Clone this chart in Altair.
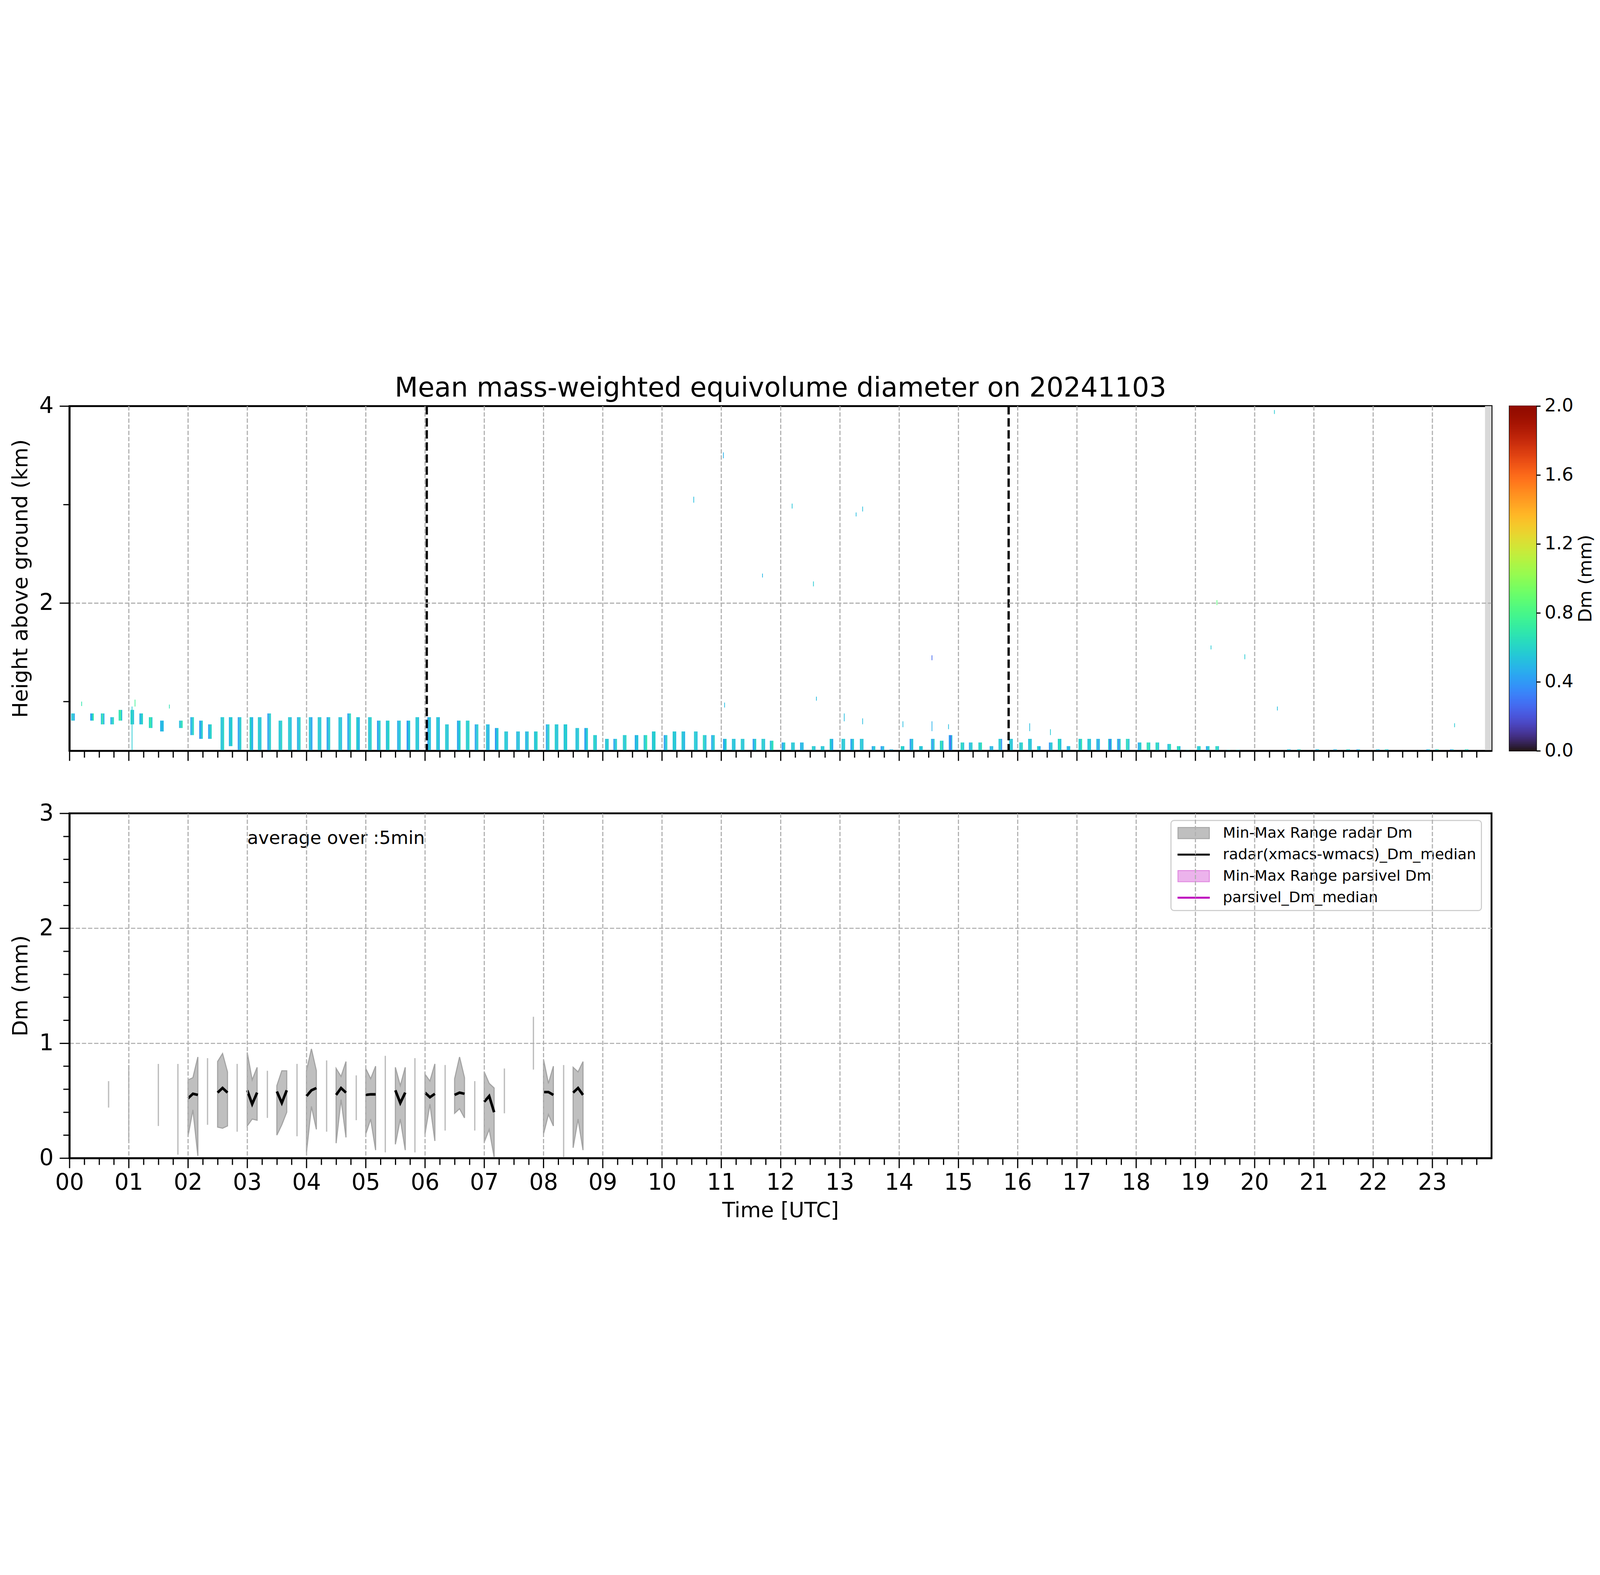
import altair as alt
import pandas as pd

FONT = "DejaVu Sans"
TITLE = "Mean mass-weighted equivolume diameter on 20241103"

# ---------------- top panel: radar Dm time-height columns ----------------
col_start = [
    0.03, 0.35, 0.53, 0.69, 0.83, 1.03, 1.18, 1.34, 1.53, 1.85,
    2.04, 2.19, 2.34, 2.55, 2.69, 2.84, 3.04, 3.18, 3.34, 3.53,
    3.69, 3.84, 4.04, 4.19, 4.34, 4.54, 4.69, 4.84, 5.04, 5.19,
    5.34, 5.53, 5.69, 5.84, 6.04, 6.19, 6.34, 6.54, 6.69, 6.84,
    7.03, 7.18, 7.34, 7.54, 7.69, 7.84, 8.04, 8.19, 8.34, 8.54,
    8.69, 8.84, 9.04, 9.18, 9.34, 9.54, 9.69, 9.83, 10.03, 10.18,
    10.33, 10.54, 10.69, 10.83, 11.03, 11.18, 11.33, 11.53, 11.68, 11.82,
    12.02, 12.18, 12.33, 12.53, 12.68, 12.83, 13.03, 13.18, 13.34, 13.54,
    13.69, 13.84, 14.03, 14.18, 14.34, 14.54, 14.69, 14.84, 15.04, 15.18,
    15.34, 15.53, 15.68, 15.86, 16.03, 16.18, 16.33, 16.53, 16.68, 16.83,
    17.03, 17.18, 17.33, 17.53, 17.68, 17.83, 18.03, 18.18, 18.33, 18.53,
    18.69, 18.84, 19.03, 19.18, 19.34, 19.53, 19.69,
    20.55, 20.72, 21.03, 21.33, 21.55, 21.72, 22.05, 22.2, 22.9, 23.05, 23.3, 23.55,
]
col_top = [
    0.880, 0.880, 0.880, 0.842, 0.916, 0.916, 0.880, 0.842, 0.807, 0.807,
    0.842, 0.807, 0.769, 0.842, 0.842, 0.842, 0.842, 0.842, 0.880, 0.807,
    0.842, 0.842, 0.842, 0.842, 0.842, 0.842, 0.880, 0.842, 0.842, 0.807,
    0.807, 0.807, 0.807, 0.842, 0.842, 0.842, 0.769, 0.807, 0.807, 0.769,
    0.769, 0.732, 0.697, 0.697, 0.697, 0.697, 0.769, 0.769, 0.769, 0.732,
    0.732, 0.660, 0.622, 0.622, 0.660, 0.660, 0.660, 0.697, 0.660, 0.697,
    0.697, 0.697, 0.660, 0.660, 0.622, 0.622, 0.622, 0.622, 0.622, 0.603,
    0.585, 0.585, 0.585, 0.548, 0.548, 0.622, 0.622, 0.622, 0.622, 0.548,
    0.548, 0.515, 0.548, 0.622, 0.548, 0.622, 0.603, 0.660, 0.585, 0.585,
    0.585, 0.548, 0.622, 0.622, 0.585, 0.622, 0.548, 0.585, 0.622, 0.548,
    0.622, 0.622, 0.622, 0.622, 0.622, 0.622, 0.585, 0.585, 0.585, 0.570,
    0.548, 0.511, 0.548, 0.548, 0.548, 0.511, 0.511,
    0.515, 0.515, 0.515, 0.515, 0.515, 0.515, 0.515, 0.515, 0.515, 0.515, 0.515, 0.515,
]
col_bottom = [
    0.807, 0.807, 0.769, 0.769, 0.807, 0.769, 0.769, 0.732, 0.697, 0.732,
    0.660, 0.622, 0.622, 0.500, 0.548, 0.511,
] + [0.5] * 113
col_dm = [
    (0.51, 0.58, 0.45), (0.42, 0.52, 0.68), (0.54, 0.70, 0.47), (0.45, 0.56, 0.62), (0.66, 0.74, 0.52),
    (0.58, 0.68, 0.51), (0.47, 0.54, 0.60), (0.62, 0.70, 0.56), (0.47, 0.51, 0.49), (0.52, 0.58, 0.66),
    (0.45, 0.52, 0.62), (0.38, 0.49, 0.58), (0.42, 0.54, 0.60), (0.56, 0.51, 0.62), (0.49, 0.54, 0.58),
    (0.41, 0.52, 0.58), (0.62, 0.52, 0.47), (0.58, 0.51, 0.56), (0.40, 0.52, 0.58), (0.56, 0.52, 0.60),
    (0.54, 0.58, 0.51), (0.47, 0.52, 0.60), (0.54, 0.51, 0.43), (0.58, 0.52, 0.56), (0.42, 0.52, 0.58),
    (0.52, 0.58, 0.51), (0.41, 0.54, 0.62), (0.58, 0.52, 0.49), (0.56, 0.52, 0.60), (0.40, 0.52, 0.58),
    (0.52, 0.56, 0.62), (0.45, 0.52, 0.58), (0.38, 0.52, 0.56), (0.54, 0.58, 0.51), (0.41, 0.56, 0.52),
    (0.52, 0.58, 0.47), (0.58, 0.52, 0.56), (0.43, 0.52, 0.60), (0.58, 0.54, 0.62), (0.42, 0.52, 0.58),
    (0.54, 0.47, 0.52), (0.38, 0.52, 0.56), (0.54, 0.58, 0.51), (0.47, 0.56, 0.52), (0.52, 0.45, 0.58),
    (0.56, 0.52, 0.62), (0.45, 0.52, 0.60), (0.58, 0.52, 0.56), (0.52, 0.60, 0.54), (0.54, 0.51, 0.58),
    (0.41, 0.52, 0.58), (0.56, 0.62, 0.52), (0.52, 0.58, 0.54), (0.43, 0.52, 0.58), (0.58, 0.52, 0.62),
    (0.45, 0.54, 0.52), (0.54, 0.58, 0.68), (0.52, 0.60, 0.56), (0.41, 0.52, 0.58), (0.54, 0.58, 0.52),
    (0.56, 0.52, 0.49), (0.54, 0.58, 0.52), (0.62, 0.56, 0.52), (0.45, 0.52, 0.58), (0.43, 0.52, 0.58),
    (0.52, 0.56, 0.52), (0.58, 0.52, 0.56), (0.41, 0.52, 0.58), (0.54, 0.60, 0.52), (0.52, 0.58, 0.66),
    (0.43, 0.52, 0.58), (0.52, 0.58, 0.54), (0.45, 0.52, 0.49), (0.56, 0.60, 0.52), (0.52, 0.58, 0.54),
    (0.58, 0.52, 0.45), (0.52, 0.58, 0.54), (0.41, 0.52, 0.56), (0.52, 0.58, 0.52), (0.43, 0.52, 0.56),
    (0.38, 0.49, 0.52), (0.45, 0.52, 0.49), (0.58, 0.62, 0.52), (0.38, 0.52, 0.54), (0.58, 0.52, 0.56),
    (0.52, 0.38, 0.58), (0.58, 0.68, 0.52), (0.41, 0.28, 0.52), (0.58, 0.64, 0.52), (0.45, 0.52, 0.58),
    (0.60, 0.54, 0.66), (0.45, 0.52, 0.49), (0.54, 0.60, 0.38), (0.52, 0.58, 0.52), (0.58, 0.54, 0.62),
    (0.52, 0.58, 0.52), (0.60, 0.52, 0.47), (0.40, 0.52, 0.56), (0.58, 0.66, 0.52), (0.52, 0.41, 0.56),
    (0.58, 0.52, 0.66), (0.52, 0.58, 0.54), (0.54, 0.40, 0.52), (0.56, 0.30, 0.52), (0.52, 0.34, 0.58),
    (0.60, 0.66, 0.52), (0.45, 0.52, 0.58), (0.62, 0.70, 0.56), (0.58, 0.66, 0.52), (0.52, 0.58, 0.62),
    (0.58, 0.70, 0.52), (0.52, 0.58, 0.66), (0.58, 0.52, 0.62), (0.45, 0.52, 0.58), (0.58, 0.66, 0.52),
    (0.52, 0.58, 0.70), (0.66, 0.58, 0.52),
    (0.52, 0.58, 0.45), (0.58, 0.52, 0.66), (0.45, 0.52, 0.58), (0.52, 0.38, 0.58), (0.58, 0.66, 0.52),
    (0.38, 0.52, 0.56), (0.52, 0.58, 0.45), (0.66, 0.58, 0.52), (0.45, 0.52, 0.58), (0.52, 0.58, 0.74),
    (0.38, 0.52, 0.58), (0.58, 0.74, 0.52),
]
COL_SPAN_H = 0.06   # duration of one radar column (hours)

# isolated echoes higher up
spk_t = [0.20, 1.05, 1.10, 1.68, 10.53, 11.03, 11.05, 11.69, 12.19, 12.55, 12.60, 13.07,
         13.27, 13.38, 13.38, 14.06, 14.55, 14.55, 14.83, 16.20, 16.55, 19.26, 19.36,
         19.83, 20.33, 20.38, 23.37]
spk_lo = [0.955, 0.50, 0.95, 0.93, 3.02, 3.47, 0.94, 2.26, 2.96, 2.17, 1.01, 0.80,
          2.88, 2.93, 0.77, 0.74, 1.42, 0.70, 0.72, 0.70, 0.66, 1.53, 1.98,
          1.43, 3.92, 0.91, 0.74]
spk_hi = [1.00, 0.95, 1.02, 0.97, 3.08, 3.53, 0.99, 2.30, 3.01, 2.22, 1.05, 0.88,
          2.92, 2.98, 0.83, 0.80, 1.47, 0.80, 0.77, 0.78, 0.72, 1.57, 2.03,
          1.48, 3.96, 0.95, 0.78]
spk_dm = [0.68, 0.56, 0.76, 0.66, 0.51, 0.47, 0.51, 0.49, 0.54, 0.56, 0.51, 0.51,
          0.51, 0.52, 0.51, 0.51, 0.25, 0.47, 0.51, 0.51, 0.56, 0.56, 0.85,
          0.56, 0.56, 0.51, 0.56]
SPK_SPAN_H = 0.012

nodata_start = [23.89]
nodata_end = [24.0]
nodata_bottom = [0.5]
nodata_top = [4.0]
event_times = [6.03, 15.85]

# ---------------- bottom panel: 5-min Dm statistics ----------------
band_t0 = [2.0, 2.5, 3.0, 3.5, 4.0, 4.5, 5.0, 5.5, 6.0, 6.5, 7.0, 8.0, 8.5]
band_min = [
    [0.19, 0.42, 0.02], [0.27, 0.26, 0.28], [0.28, 0.34, 0.33], [0.20, 0.29, 0.40],
    [0.05, 0.45, 0.25], [0.13, 0.51, 0.18], [0.21, 0.34, 0.07], [0.12, 0.34, 0.07],
    [0.21, 0.47, 0.15], [0.39, 0.43, 0.35], [0.14, 0.25, 0.01], [0.21, 0.38, 0.28],
    [0.09, 0.34, 0.07],
]
band_med = [
    [0.52, 0.56, 0.55], [0.57, 0.61, 0.57], [0.59, 0.47, 0.57], [0.58, 0.48, 0.59],
    [0.54, 0.59, 0.61], [0.55, 0.61, 0.57], [0.55, 0.555, 0.555], [0.59, 0.48, 0.57],
    [0.57, 0.53, 0.56], [0.55, 0.57, 0.56], [0.49, 0.54, 0.40], [0.575, 0.575, 0.55],
    [0.57, 0.61, 0.55],
]
band_max = [
    [0.68, 0.70, 0.88], [0.84, 0.91, 0.75], [0.92, 0.68, 0.79], [0.63, 0.76, 0.76],
    [0.76, 0.95, 0.76], [0.78, 0.71, 0.84], [0.78, 0.69, 0.80], [0.79, 0.63, 0.79],
    [0.73, 0.67, 0.82], [0.69, 0.88, 0.70], [0.75, 0.65, 0.61], [0.86, 0.65, 0.80],
    [0.79, 0.75, 0.84],
]
AVG_MIN = 5
single_t = [0.66, 1.0, 1.5, 1.83, 2.33, 2.83, 3.34, 3.84, 4.34, 4.84, 5.33, 5.83,
            6.34, 6.84, 7.34, 7.83, 8.34]
single_min = [0.44, 0.15, 0.28, 0.03, 0.29, 0.23, 0.35, 0.19, 0.23, 0.33, 0.05, 0.05,
              0.24, 0.24, 0.39, 0.77, 0.01]
single_max = [0.67, 0.81, 0.82, 0.82, 0.87, 0.82, 0.76, 0.82, 0.85, 0.72, 0.89, 0.87,
              0.81, 0.67, 0.78, 1.23, 0.81]

series_names = ["Min-Max Range radar Dm", "radar(xmacs-wmacs)_Dm_median",
                "Min-Max Range parsivel Dm", "parsivel_Dm_median"]
series_fill = ["#bfbfbf", "black", "#ecb3ec", "#bf00bf"]
series_edge = ["#a3a3a3", "black", "#df85df", "#bf00bf"]
annot_text = ["average over :5min"]
annot_t = [3.0]
annot_v = [2.78]

cb_ticks = [0.0, 0.4, 0.8, 1.2, 1.6, 2.0]

# ---------------- build tables ----------------
cells = []
for i, t in enumerate(col_start):
    w = COL_SPAN_H / 3
    for k, dm in enumerate(col_dm[i]):
        cells.append(dict(t0=t + k * w, t1=t + (k + 1) * w,
                          h0=col_bottom[i], h1=col_top[i], dm=dm))
for t, lo, hi, dm in zip(spk_t, spk_lo, spk_hi, spk_dm):
    cells.append(dict(t0=t, t1=t + SPK_SPAN_H, h0=lo, h1=hi, dm=dm))
cells_df = pd.DataFrame(cells)
nodata_df = pd.DataFrame({"t0": nodata_start, "t1": nodata_end,
                          "h0": nodata_bottom, "h1": nodata_top})
event_df = pd.DataFrame({"t0": event_times})

band_rows = []
for g, t0 in enumerate(band_t0):
    for k in range(3):
        band_rows.append(dict(grp=g, t=t0 + k * AVG_MIN / 60.0, lo=band_min[g][k],
                              med=band_med[g][k], hi=band_max[g][k]))
band_df = pd.DataFrame(band_rows)
single_df = pd.DataFrame({"t": single_t, "lo": single_min, "hi": single_max})
annot_df = pd.DataFrame({"t": annot_t, "lo": annot_v, "label": annot_text})
legend_df = pd.DataFrame({"series": pd.Series([], dtype=str),
                          "t": pd.Series([], dtype=float),
                          "lo": pd.Series([], dtype=float)})

ramp_lo = [i / 100 for i in range(200)]
ramp_df = pd.DataFrame({"lo": ramp_lo, "hi": [v + 0.012 for v in ramp_lo],
                        "x0": [0.0] * 200, "x1": [1.0] * 200})

# ---------------- styling ----------------
W, H = 6601, 1600
CB_W = 125
TICK_W = 5.5
SPINE = 8.5
GRID = dict(grid=True, gridColor="#b0b0b0", gridWidth=5.3, gridDash=[20, 8.5])

quarters = [i / 4 for i in range(96)]
is_hour = "datum.value % 1 === 0"
x_tick_size = {"condition": {"test": is_hour, "value": 46}, "value": 31}
x_grid_op = {"condition": {"test": "datum.value % 1 === 0 && datum.value > 0", "value": 1},
             "value": 0}

x_scale = alt.Scale(domain=[0, 24], nice=False, zero=False)
y_top_scale = alt.Scale(domain=[0.5, 4], nice=False, zero=False)
y_bot_scale = alt.Scale(domain=[0, 3], nice=False, zero=False)
dm_scale = alt.Scale(scheme="turbo", domain=[0, 2])

common_axis = dict(tickColor="black", tickWidth=TICK_W, domainColor="black",
                   domainWidth=SPINE, labelColor="black", labelFont=FONT,
                   titleFont=FONT, titleFontWeight="normal", titleColor="black",
                   labelFontSize=105, titleFontSize=98, zindex=1)

x_axis_top = alt.Axis(values=quarters, labels=False, title=None,
                      tickSize=x_tick_size, gridOpacity=x_grid_op, **GRID, **common_axis)
x_axis_bot = alt.Axis(values=quarters, title="Time [UTC]", tickSize=x_tick_size,
                      gridOpacity=x_grid_op,
                      labelExpr="datum.value % 1 === 0 ? (datum.value < 10 ? '0' + datum.value : '' + datum.value) : ''",
                      labelOverlap=False, labelFlush=False, labelBound=False,
                      labelPadding=18, titlePadding=28, **GRID, **common_axis)

y_axis_top = alt.Axis(values=[1, 2, 3, 4], title="Height above ground (km)", format=".0f",
                      labelExpr="datum.value % 2 === 0 ? datum.label : ''",
                      tickSize={"condition": {"test": "datum.value % 2 === 0", "value": 46}, "value": 29},
                      gridOpacity={"condition": {"test": "datum.value === 2", "value": 1}, "value": 0},
                      labelOverlap=False, labelFlush=False, labelPadding=28, titlePadding=34,
                      **GRID, **common_axis)
y_bot_vals = [round(i * 0.2, 1) for i in range(16)]
y_axis_bot = alt.Axis(values=y_bot_vals, title="Dm (mm)", format=".0f",
                      labelExpr="datum.value % 1 === 0 ? datum.label : ''",
                      tickSize={"condition": {"test": is_hour, "value": 46}, "value": 29},
                      gridOpacity={"condition": {"test": "datum.value === 1 || datum.value === 2",
                                                 "value": 1}, "value": 0},
                      labelOverlap=False, labelFlush=False, labelPadding=28, titlePadding=34,
                      **GRID, **common_axis)

X_TOP = alt.X("t0:Q", scale=x_scale, axis=x_axis_top)
Y_TOP = alt.Y("h0:Q", scale=y_top_scale, axis=y_axis_top)

# ---------------- top chart ----------------
heat = alt.Chart(cells_df).mark_rect(strokeWidth=0).encode(
    x=X_TOP, x2="t1:Q", y=Y_TOP, y2="h1:Q",
    color=alt.Color("dm:Q", scale=dm_scale, legend=None),
)
nodata = alt.Chart(nodata_df).mark_rect(color="#d9d9d9", strokeWidth=0).encode(
    x=X_TOP, x2="t1:Q", y=Y_TOP, y2="h1:Q",
)
events = alt.Chart(event_df).mark_rule(color="black", strokeWidth=10.5,
                                       strokeDash=[39, 17]).encode(x=X_TOP)
top = alt.layer(heat, nodata, events).properties(
    width=W, height=H,
    title=alt.TitleParams(TITLE, font=FONT, fontSize=125, fontWeight="normal",
                          color="black", anchor="middle", offset=-34),
)

cbar = alt.Chart(ramp_df).mark_rect(strokeWidth=0).encode(
    y=alt.Y("lo:Q", scale=alt.Scale(domain=[0, 2], nice=False, zero=False),
            axis=alt.Axis(orient="right", values=cb_ticks, format=".1f", title="Dm (mm)",
                          titleAngle=270, titleBaseline="middle", titleAlign="center",
                          titleX=230, titleY=H / 2, titleFontSize=85,
                          tickSize=19, tickColor="black", tickWidth=TICK_W,
                          labelFontSize=84, labelPadding=19, labelFont=FONT,
                          labelColor="black", titleFont=FONT, titleFontWeight="normal",
                          domain=False, grid=False,
                          labelOverlap=False, labelFlush=False)),
    y2="hi:Q",
    x=alt.X("x0:Q", scale=alt.Scale(domain=[0, 1], nice=False, zero=False), axis=None),
    x2="x1:Q",
    color=alt.Color("lo:Q", scale=dm_scale, legend=None),
).properties(width=CB_W, height=H, view=alt.ViewBackground(stroke="black", strokeWidth=5))

top_row = alt.hconcat(top, cbar, spacing=75)

# ---------------- bottom chart ----------------
RECT_PATH = "M-1,-1H4.6V1H-1Z"
LINE_PATH = "M-1,-0.1H4.6V0.1H-1Z"
series_shapes = [RECT_PATH, LINE_PATH, RECT_PATH, LINE_PATH]
legend = alt.Legend(
    title=None, orient="none", legendX=5113, legendY=33,
    labelFont=FONT, labelFontSize=69, labelColor="black", labelLimit=3000,
    symbolSize=52 * 52, symbolStrokeWidth=4, symbolOpacity=1, labelOffset=148,
    padding=24, rowPadding=30, fillColor="white", strokeColor="#cccccc",
    cornerRadius=14,
)

X_BOT = alt.X("t:Q", scale=x_scale, axis=x_axis_bot)
Y_BOT = alt.Y("lo:Q", scale=y_bot_scale, axis=y_axis_bot)

bands = alt.Chart(band_df).mark_area(color="#bfbfbf", opacity=1, stroke="#a3a3a3",
                                     strokeWidth=5).encode(
    x=X_BOT, y=Y_BOT, y2="hi:Q", detail="grp:N",
)
singles = alt.Chart(single_df).mark_rule(color="#bdbdbd", strokeWidth=6).encode(
    x=X_BOT, y=Y_BOT, y2="hi:Q",
)
medians = alt.Chart(band_df).mark_line(color="black", strokeWidth=12).encode(
    x=X_BOT, y=alt.Y("med:Q", scale=y_bot_scale, axis=y_axis_bot), detail="grp:N",
)
annot = alt.Chart(annot_df).mark_text(align="left", baseline="middle", font=FONT,
                                      fontSize=84, color="black").encode(
    x=X_BOT, y=Y_BOT, text="label:N",
)
legend_layer = alt.Chart(legend_df).mark_point(filled=True, opacity=1, strokeWidth=4).encode(
    x=X_BOT, y=Y_BOT,
    color=alt.Color("series:N", scale=alt.Scale(domain=series_names, range=series_fill),
                    legend=legend),
    shape=alt.Shape("series:N", scale=alt.Scale(domain=series_names, range=series_shapes),
                    legend=legend),
    stroke=alt.Stroke("series:N", scale=alt.Scale(domain=series_names, range=series_edge),
                      legend=legend),
)
bottom = alt.layer(bands, singles, medians, annot, legend_layer).properties(width=W, height=H)

chart = alt.vconcat(top_row, bottom, spacing=180).resolve_scale(
    color="independent", shape="independent", stroke="independent"
).configure(
    font=FONT, padding={"left": 29, "top": 84, "right": 5, "bottom": 5}
).configure_view(
    stroke="black", strokeWidth=SPINE
).configure_legend(
    strokeWidth=5
)

chart.save("out.html", embed_options={"renderer": "svg", "actions": False})
